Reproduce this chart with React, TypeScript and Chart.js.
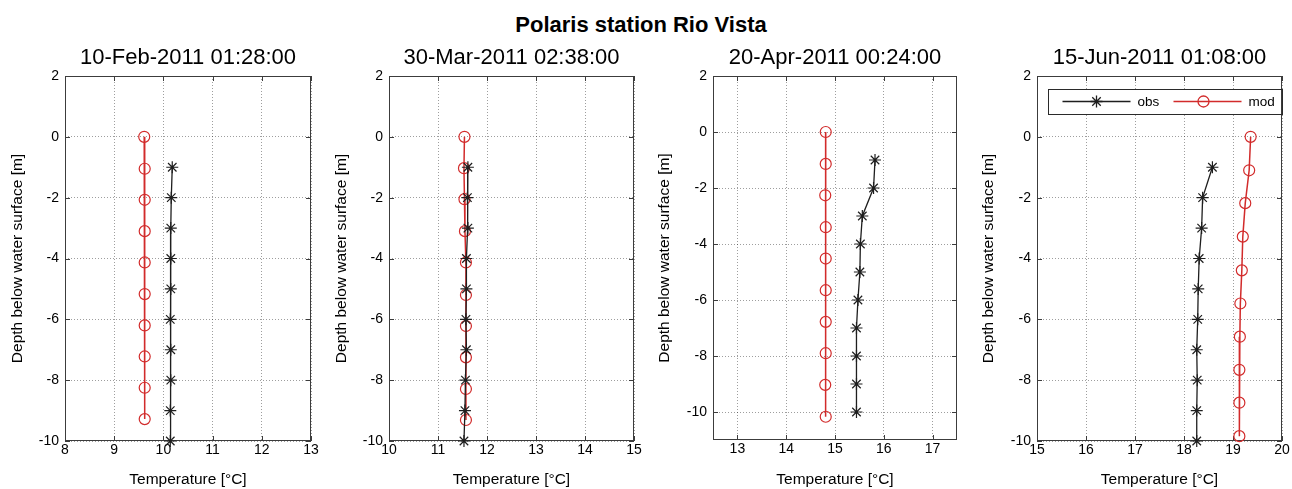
import { useEffect, useRef } from "react";
import { Chart, registerables } from "chart.js";

Chart.register(...registerables);

const FONT = '"Liberation Sans", Arial, Helvetica, sans-serif';
Chart.defaults.font.family = FONT;
Chart.defaults.color = "#000";

// ---- data ----
const mainTitle = "Polaris station Rio Vista";
const panelTitles = [
  "10-Feb-2011 01:28:00",
  "30-Mar-2011 02:38:00",
  "20-Apr-2011 00:24:00",
  "15-Jun-2011 01:08:00",
];
const seriesLabels = ["obs", "mod"];

// observed profile depths (m, negative downward)
const obsDepth = [-1, -2, -3, -4, -5, -6, -7, -8, -9, -10];

const febObsTemp = [10.18, 10.16, 10.15, 10.15, 10.15, 10.14, 10.15, 10.15, 10.14, 10.14];
const febModDepth = [0, -1.05, -2.07, -3.1, -4.13, -5.17, -6.2, -7.22, -8.25, -9.28];
const febModTemp = [9.61, 9.62, 9.62, 9.62, 9.62, 9.62, 9.62, 9.62, 9.62, 9.62];

const marObsTemp = [11.61, 11.6, 11.61, 11.58, 11.58, 11.57, 11.58, 11.56, 11.55, 11.53];
const marModDepth = [0, -1.03, -2.05, -3.1, -4.13, -5.2, -6.22, -7.25, -8.29, -9.31];
const marModTemp = [11.54, 11.53, 11.54, 11.55, 11.57, 11.57, 11.57, 11.57, 11.57, 11.57];

const aprObsTemp = [15.82, 15.79, 15.56, 15.52, 15.51, 15.47, 15.44, 15.44, 15.44, 15.44];
const aprModDepth = [0, -1.14, -2.26, -3.4, -4.52, -5.65, -6.78, -7.9, -9.03, -10.17];
const aprModTemp = [14.81, 14.81, 14.8, 14.81, 14.81, 14.81, 14.81, 14.81, 14.8, 14.81];

const junObsTemp = [18.58, 18.38, 18.36, 18.31, 18.29, 18.28, 18.26, 18.27, 18.26, 18.26];
const junModDepth = [0, -1.1, -2.18, -3.28, -4.39, -5.48, -6.57, -7.66, -8.74, -9.84];
const junModTemp = [19.36, 19.33, 19.25, 19.2, 19.18, 19.15, 19.14, 19.13, 19.13, 19.13];

// axis limits and tick labels
const febXTicks = [8, 9, 10, 11, 12, 13];
const marXTicks = [10, 11, 12, 13, 14, 15];
const aprXTicks = [13, 14, 15, 16, 17];
const junXTicks = [15, 16, 17, 18, 19, 20];
const depthTicks = [-10, -8, -6, -4, -2, 0, 2];
const febXRange = [8, 13];
const marXRange = [10, 15];
const aprXRange = [12.5, 17.5];
const junXRange = [15, 20];
const depthRange = [-10, 2];
const aprDepthRange = [-11, 2];

const xTitle = "Temperature [°C]";
const yTitle = "Depth below water surface [m]";

const OBS_COLOR = "#1e1e1e";
const MOD_COLOR = "#d22b2b";

type Panel = {
  title: string;
  obsTemp: number[];
  modDepth: number[];
  modTemp: number[];
  xTicks: number[];
  xRange: number[];
  yRange: number[];
  legend: boolean;
};

const panels: Panel[] = [
  { title: panelTitles[0], obsTemp: febObsTemp, modDepth: febModDepth, modTemp: febModTemp, xTicks: febXTicks, xRange: febXRange, yRange: depthRange, legend: false },
  { title: panelTitles[1], obsTemp: marObsTemp, modDepth: marModDepth, modTemp: marModTemp, xTicks: marXTicks, xRange: marXRange, yRange: depthRange, legend: false },
  { title: panelTitles[2], obsTemp: aprObsTemp, modDepth: aprModDepth, modTemp: aprModTemp, xTicks: aprXTicks, xRange: aprXRange, yRange: aprDepthRange, legend: false },
  { title: panelTitles[3], obsTemp: junObsTemp, modDepth: junModDepth, modTemp: junModTemp, xTicks: junXTicks, xRange: junXRange, yRange: depthRange, legend: true },
];

// ---- layout of the four axes (px) ----
const H = 489;
const layouts = [
  { left: 0, width: 330, yAxisW: 65, padRight: 19, xAxisH: 48, yLabelX: 18 },
  { left: 330, width: 320, yAxisW: 59, padRight: 16, xAxisH: 48, yLabelX: 12 },
  { left: 650, width: 320, yAxisW: 63, padRight: 13, xAxisH: 49, yLabelX: 15 },
  { left: 970, width: 322, yAxisW: 67, padRight: 10, xAxisH: 48, yLabelX: 19 },
];
const PLOT_TOP = 76;
const AXIS_TITLE_SIZE = 15.5;

function drawStar(ctx: CanvasRenderingContext2D, x: number, y: number, r: number) {
  ctx.beginPath();
  ctx.moveTo(x - r, y);
  ctx.lineTo(x + r, y);
  ctx.moveTo(x, y - r);
  ctx.lineTo(x, y + r);
  const d = r * Math.SQRT1_2;
  ctx.moveTo(x - d, y - d);
  ctx.lineTo(x + d, y + d);
  ctx.moveTo(x - d, y + d);
  ctx.lineTo(x + d, y - d);
  ctx.stroke();
}

// axes box, inward tick marks, subplot title and (optionally) the legend
const framePlugin = {
  id: "profileFrame",
  beforeDatasetsDraw(chart: any) {
    const { ctx, chartArea: a, scales } = chart;
    ctx.save();
    ctx.strokeStyle = "#3c3c3c";
    ctx.lineWidth = 1;
    ctx.strokeRect(a.left + 0.5, a.top + 0.5, a.right - a.left - 1, a.bottom - a.top - 1);
    const t = 5;
    ctx.beginPath();
    for (const tk of scales.x.ticks) {
      const px = Math.round(scales.x.getPixelForValue(tk.value)) + 0.5;
      ctx.moveTo(px, a.top);
      ctx.lineTo(px, a.top + t);
      ctx.moveTo(px, a.bottom);
      ctx.lineTo(px, a.bottom - t);
    }
    for (const tk of scales.y.ticks) {
      const py = Math.round(scales.y.getPixelForValue(tk.value)) + 0.5;
      ctx.moveTo(a.left, py);
      ctx.lineTo(a.left + t, py);
      ctx.moveTo(a.right, py);
      ctx.lineTo(a.right - t, py);
    }
    ctx.stroke();
    ctx.restore();
  },
  afterDraw(chart: any, _args: any, opts: any) {
    const { ctx, chartArea: a } = chart;
    ctx.save();
    ctx.fillStyle = "#000";
    ctx.font = `22px ${FONT}`;
    ctx.textAlign = "center";
    ctx.textBaseline = "alphabetic";
    ctx.fillText(opts.title, (a.left + a.right) / 2, 64);

    if (opts.legend) {
      const bx = a.left + 10.5;
      const bw = a.right - 1 - bx;
      const by = a.top + 13;
      const bh = 25;
      const cy = by + bh / 2;
      ctx.fillStyle = "#fff";
      ctx.fillRect(bx, by, bw, bh);
      ctx.strokeStyle = "#2a2a2a";
      ctx.lineWidth = 1;
      ctx.strokeRect(Math.round(bx) + 0.5, Math.round(by) + 0.5, Math.round(bw), bh);
      const ds = chart.data.datasets;
      const entries = [
        { ds: ds[0], x0: bx + 15, mark: "star" },
        { ds: ds[1], x0: bx + 126, mark: "circle" },
      ];
      ctx.font = `13.5px ${FONT}`;
      ctx.textAlign = "left";
      ctx.textBaseline = "middle";
      for (const e of entries) {
        ctx.strokeStyle = e.ds.borderColor;
        ctx.lineWidth = 1.3;
        ctx.beginPath();
        ctx.moveTo(e.x0, cy);
        ctx.lineTo(e.x0 + 68, cy);
        ctx.stroke();
        const mx = e.x0 + (e.mark === "star" ? 34 : 30);
        if (e.mark === "star") {
          drawStar(ctx, mx, cy, 6);
        } else {
          ctx.beginPath();
          ctx.arc(mx, cy, 5.5, 0, Math.PI * 2);
          ctx.stroke();
        }
        ctx.fillStyle = "#000";
        ctx.fillText(e.ds.label, e.x0 + 75, cy + 0.5);
      }
    }
    ctx.restore();
  },
};

function ProfilePanel({ panel, layout }: { panel: Panel; layout: (typeof layouts)[number] }) {
  const ref = useRef<HTMLCanvasElement | null>(null);

  useEffect(() => {
    if (!ref.current) return;
    const gridStyle = {
      color: "rgba(0,0,0,0.38)",
      lineWidth: 1,
      drawTicks: false,
      tickBorderDash: [1, 2],
    };
    const chart = new Chart(ref.current, {
      type: "scatter",
      data: {
        datasets: [
          {
            label: seriesLabels[0],
            data: obsDepth.map((d, i) => ({ x: panel.obsTemp[i], y: d })),
            showLine: true,
            borderColor: OBS_COLOR,
            backgroundColor: OBS_COLOR,
            borderWidth: 1.3,
            pointStyle: "star",
            pointRadius: 6,
            pointBorderWidth: 1.2,
            pointBorderColor: OBS_COLOR,
            clip: false,
          },
          {
            label: seriesLabels[1],
            data: panel.modDepth.map((d, i) => ({ x: panel.modTemp[i], y: d })),
            showLine: true,
            borderColor: MOD_COLOR,
            backgroundColor: "rgba(0,0,0,0)",
            borderWidth: 1.5,
            pointStyle: "circle",
            pointRadius: 5.5,
            pointBorderWidth: 1.2,
            pointBorderColor: MOD_COLOR,
            pointBackgroundColor: "rgba(0,0,0,0)",
            clip: false,
          },
        ],
      },
      options: {
        responsive: false,
        animation: false,
        events: [],
        layout: { padding: { top: PLOT_TOP, right: layout.padRight, left: 0, bottom: 0 } },
        plugins: {
          legend: { display: false },
          tooltip: { enabled: false },
          profileFrame: { title: panel.title, legend: panel.legend },
        } as any,
        scales: {
          x: {
            type: "linear",
            min: panel.xRange[0],
            max: panel.xRange[1],
            afterBuildTicks: (s: any) => {
              s.ticks = panel.xTicks.map((v) => ({ value: v }));
            },
            afterFit: (s: any) => {
              s.height = layout.xAxisH;
              s.paddingLeft = 0;
              s.paddingRight = 0;
            },
            grid: { ...gridStyle, borderDash: [1, 2] } as any,
            border: { display: false, dash: [1, 2] },
            ticks: { font: { size: 14 }, color: "#000", padding: 1, maxRotation: 0 },
            title: {
              display: true,
              text: xTitle,
              font: { size: AXIS_TITLE_SIZE },
              color: "#000",
              padding: { top: 0, bottom: 0 },
            },
          },
          y: {
            type: "linear",
            min: panel.yRange[0],
            max: panel.yRange[1],
            afterBuildTicks: (s: any) => {
              s.ticks = depthTicks.map((v) => ({ value: v }));
            },
            afterFit: (s: any) => {
              s.width = layout.yAxisW;
              s.paddingTop = 0;
              s.paddingBottom = 0;
            },
            grid: { ...gridStyle } as any,
            border: { display: false, dash: [1, 2] },
            ticks: { font: { size: 14 }, color: "#000", padding: 6 },
            title: {
              display: true,
              text: yTitle,
              font: { size: AXIS_TITLE_SIZE },
              color: "#000",
              padding: { top: layout.yLabelX - (AXIS_TITLE_SIZE * 1.2) / 2, bottom: 0 },
            },
          },
        },
      },
      plugins: [framePlugin],
    });
    return () => chart.destroy();
  }, [panel, layout]);

  return (
    <canvas
      ref={ref}
      width={layout.width}
      height={H}
      style={{ position: "absolute", left: layout.left, top: 0, width: layout.width, height: H }}
    />
  );
}

export default function App() {
  return (
    <div style={{ position: "absolute", left: 0, top: 0, width: 1292, height: H, background: "#fff", overflow: "hidden" }}>
      <div
        style={{
          position: "absolute",
          left: 641,
          top: 12,
          transform: "translateX(-50%)",
          whiteSpace: "nowrap",
          fontFamily: FONT,
          fontWeight: "bold",
          fontSize: 22,
          lineHeight: "normal",
          color: "#000",
        }}
      >
        {mainTitle}
      </div>
      {panels.map((p, i) => (
        <ProfilePanel key={i} panel={p} layout={layouts[i]} />
      ))}
    </div>
  );
}
